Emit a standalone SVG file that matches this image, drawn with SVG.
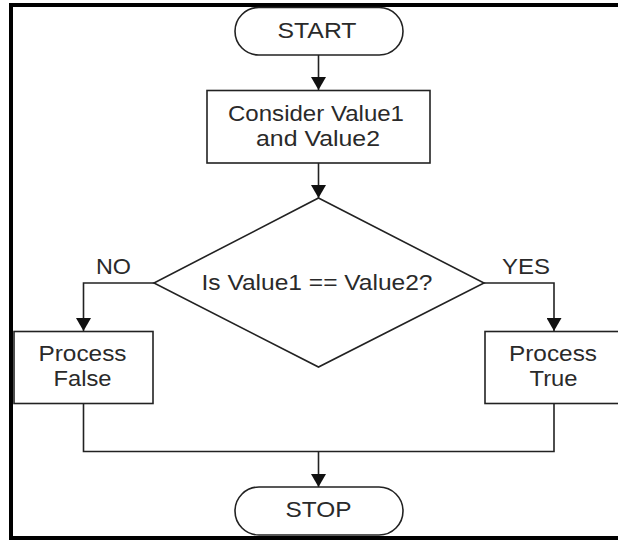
<svg xmlns="http://www.w3.org/2000/svg" width="618" height="541" viewBox="0 0 618 541">
<defs>
<style>
.shape{fill:#fff;stroke:#222;stroke-width:1.6}
.conn{fill:none;stroke:#222;stroke-width:1.6}
text{font-family:"Liberation Sans",Arial,sans-serif;font-size:22px;fill:#2a2a2a;text-anchor:middle}
</style>
<marker id="arr" viewBox="0 0 13 15" markerWidth="13" markerHeight="15" refX="13" refY="7.5" orient="auto" markerUnits="userSpaceOnUse">
<path d="M0,0 L13,7.5 L0,15 z" fill="#111"/>
</marker>
</defs>
<rect x="0" y="0" width="618" height="541" fill="#fff"/>
<rect id="frame" x="11" y="5" width="640" height="533" fill="#fff" stroke="#000" stroke-width="4"/>
<g id="connectors">
<path class="conn" d="M318.5,55 V90" marker-end="url(#arr)"/>
<path class="conn" d="M318.5,163 V198" marker-end="url(#arr)"/>
<path class="conn" d="M154,283 H83.5 V331" marker-end="url(#arr)"/>
<path class="conn" d="M484,283 H554 V331" marker-end="url(#arr)"/>
<path class="conn" d="M83.5,403 V451.5 H554 V403"/>
<path class="conn" d="M318.5,451.5 V487" marker-end="url(#arr)"/>
</g>
<g id="start">
<rect class="shape" x="235" y="7.5" width="168" height="47.5" rx="23.75"/>
<text x="317" y="37.5" textLength="79" lengthAdjust="spacingAndGlyphs">START</text>
</g>
<g id="consider">
<rect class="shape" x="207" y="90.5" width="223" height="72.5"/>
<text x="316" y="120.7" textLength="176" lengthAdjust="spacingAndGlyphs">Consider Value1</text>
<text x="318" y="145.7" textLength="124" lengthAdjust="spacingAndGlyphs">and Value2</text>
</g>
<g id="decision">
<polygon class="shape" points="318.5,198 484,283 318.5,367 154,283"/>
<text x="317" y="290" textLength="231" lengthAdjust="spacingAndGlyphs">Is Value1 == Value2?</text>
<text x="113.5" y="274" textLength="35" lengthAdjust="spacingAndGlyphs">NO</text>
<text x="526" y="274" textLength="48" lengthAdjust="spacingAndGlyphs">YES</text>
</g>
<g id="process-false">
<rect class="shape" x="14" y="331.5" width="139" height="72"/>
<text x="82.5" y="360.5" textLength="88" lengthAdjust="spacingAndGlyphs">Process</text>
<text x="82.5" y="385.7" textLength="58" lengthAdjust="spacingAndGlyphs">False</text>
</g>
<g id="process-true">
<rect class="shape" x="485" y="331.5" width="139" height="72"/>
<text x="553" y="360.5" textLength="88" lengthAdjust="spacingAndGlyphs">Process</text>
<text x="553.5" y="385.7" textLength="48" lengthAdjust="spacingAndGlyphs">True</text>
</g>
<g id="stop">
<rect class="shape" x="235" y="487" width="168" height="48" rx="24"/>
<text x="318.5" y="516.7" textLength="66" lengthAdjust="spacingAndGlyphs">STOP</text>
</g>
</svg>
